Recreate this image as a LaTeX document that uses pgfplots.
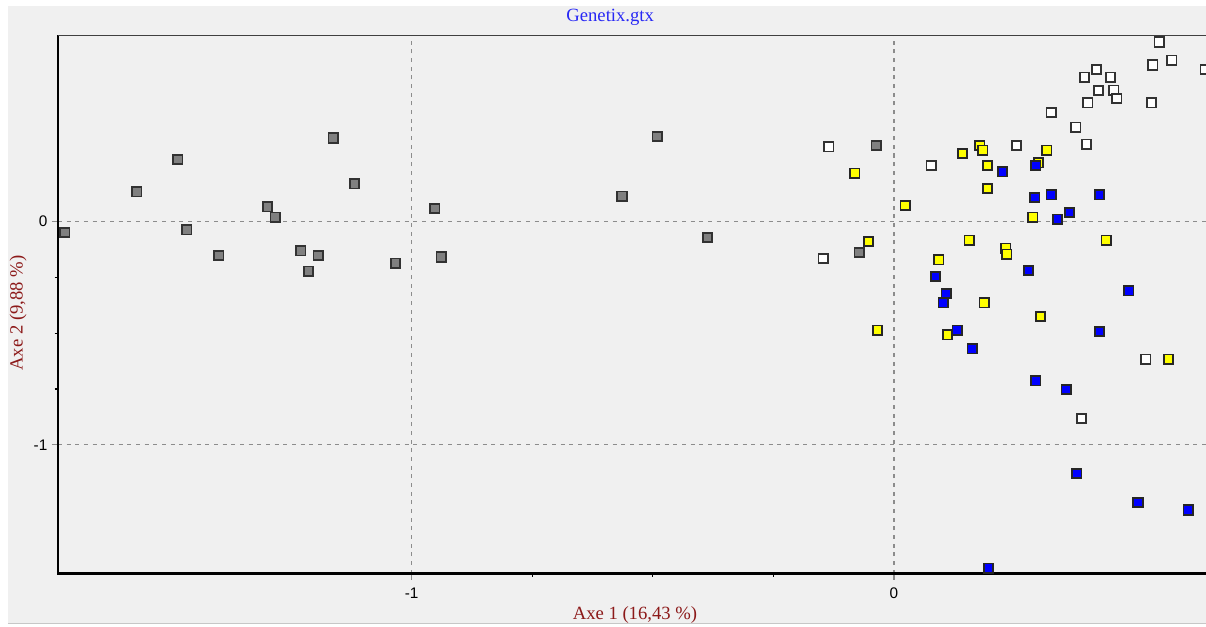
\documentclass[border=0pt]{standalone}
\usepackage{pgfplots}
\pgfplotsset{compat=1.18}
\usepackage{fontspec}
\setmainfont{Liberation Serif}
\newfontfamily\ticksans{Liberation Sans}
\definecolor{bgpanel}{RGB}{240,240,240}
\definecolor{gridgray}{RGB}{140,140,140}
\definecolor{labred}{RGB}{140,25,25}
\definecolor{titleblue}{RGB}{40,40,245}
\definecolor{mgray}{RGB}{128,128,128}
\definecolor{myellow}{RGB}{255,255,0}
\definecolor{mblue}{RGB}{0,0,255}
\definecolor{edgegray}{RGB}{50,50,50}

\pgfplotstableread{
x y
-1.719 -0.050
-1.570 0.133
-1.485 0.277
-1.466 -0.037
-1.400 -0.153
-1.299 0.066
-1.283 0.019
-1.230 -0.131
-1.214 -0.222
-1.194 -0.153
-1.163 0.374
-1.119 0.169
-1.034 -0.187
-0.952 0.059
-0.939 -0.159
-0.564 0.114
-0.491 0.380
-0.387 -0.071
-0.037 0.340
-0.072 -0.138
}\graydata

\pgfplotstableread{
x y
-0.135 0.334
-0.147 -0.166
0.077 0.250
0.254 0.340
0.326 0.489
0.377 0.422
0.399 0.346
0.402 0.531
0.395 0.647
0.420 0.680
0.424 0.586
0.449 0.647
0.456 0.588
0.462 0.550
0.534 0.531
0.537 0.701
0.550 0.804
0.576 0.722
0.645 0.680
0.522 -0.617
0.389 -0.883
}\whitedata

\pgfplotstableread{
x y
-0.081 0.216
0.023 0.072
-0.053 -0.090
0.142 0.304
0.178 0.340
0.184 0.319
0.194 0.250
0.194 0.147
0.300 0.263
0.317 0.319
0.288 0.019
0.156 -0.084
0.232 -0.119
0.234 -0.146
0.093 -0.172
0.440 -0.084
-0.034 -0.487
0.187 -0.364
0.304 -0.426
0.111 -0.507
0.569 -0.617
}\yellowdata

\pgfplotstableread{
x y
0.225 0.223
0.294 0.250
0.292 0.107
0.326 0.120
0.426 0.120
0.364 0.040
0.339 0.011
0.086 -0.247
0.279 -0.220
0.108 -0.323
0.487 -0.310
0.102 -0.364
0.131 -0.487
0.162 -0.570
0.426 -0.493
0.294 -0.713
0.357 -0.753
0.379 -1.129
0.506 -1.259
0.610 -1.292
0.196 -1.552
}\bluedata

\begin{document}
\begin{tikzpicture}
\fill[bgpanel] (-37.5pt,-37.875pt) rectangle (861pt,425.625pt);
\draw[black!22, line width=0.75pt] (-37.5pt,-37.5pt) -- (861pt,-37.5pt);
\begin{axis}[
  at={(0,0)}, anchor=south west,
  scale only axis, width=861pt, height=403.5pt,
  xmin=-1.7334, xmax=0.647, ymin=-1.5763, ymax=0.833,
  axis line style={draw=none},
  clip=false,
  xtick={-1,0}, xticklabels={-1,0},
  ytick={-1,0}, yticklabels={-1,0},
  minor xtick={-0.75,-0.5,-0.25},
  minor ytick={-0.75,-0.5,-0.25},
  xtick pos=bottom, ytick pos=left, tick align=outside,
  major tick length=4.5pt, minor tick length=2.5pt,
  major tick style={gridgray, line width=0.9pt},
  minor tick style={black, line width=0.8pt},
  grid=major,
  major grid style={gridgray, line width=0.9pt, dash pattern=on 3pt off 3.5pt},
  tick label style={font=\ticksans\fontsize{11.5}{13}\selectfont, text=black},
  xticklabel shift=2.5pt,
  every axis title shift=0pt,
  title={Genetix.gtx},
  title style={at={(axis description cs:0.481,1.0344)}, anchor=center, yshift=0pt, font=\fontsize{14}{16}\selectfont, text=titleblue},
  xlabel={Axe 1 (16,43 \%)},
  ylabel={Axe 2 (9,88 \%)},
  every axis x label/.style={at={(axis description cs:0.5026,-0.0771)}, anchor=center, font=\fontsize{14}{16}\selectfont, text=labred},
  every axis y label/.style={at={(axis description cs:-0.0348,0.484)}, anchor=center, rotate=90, font=\fontsize{14}{16}\selectfont, text=labred},
]
\addplot[only marks, mark=square*, mark size=3.5pt, mark options={line width=1.3pt, draw=edgegray, fill=mgray}] table {\graydata};
\addplot[only marks, mark=square*, mark size=3.5pt, mark options={line width=1.3pt, draw=edgegray, fill=white}] table {\whitedata};
\addplot[only marks, mark=square*, mark size=3.5pt, mark options={line width=1.3pt, draw=black!85, fill=myellow}] table {\yellowdata};
\addplot[only marks, mark=square*, mark size=3.5pt, mark options={line width=1.3pt, draw=black!85, fill=mblue}] table {\bluedata};
\draw[black, line width=1.6pt] (rel axis cs:0,1) -- (rel axis cs:0,0) -- (rel axis cs:1,0);
\draw[black!75, line width=1.1pt] (rel axis cs:0,1) -- (rel axis cs:1,1);
\end{axis}
\pgfresetboundingbox
\path[use as bounding box] (-43.5pt,-39.375pt) rectangle (861pt,430.125pt);
\end{tikzpicture}
\end{document}
